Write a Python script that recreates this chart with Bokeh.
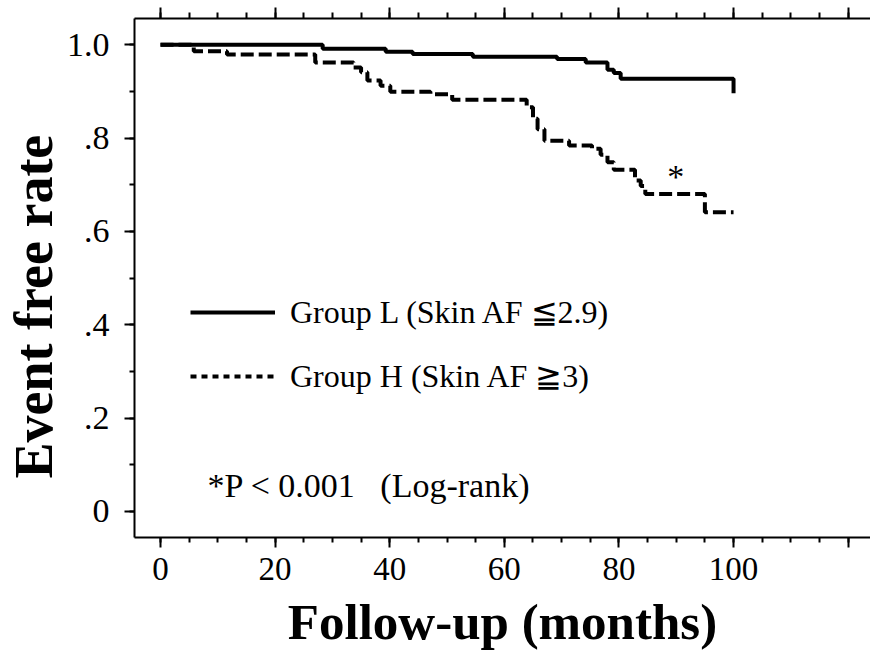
from bokeh.plotting import figure
from bokeh.models import (FixedTicker, LinearAxis, Range1d, Label, Legend, LegendItem, Title,
                          CustomLabelingPolicy)
from bokeh.embed import file_html
from bokeh.resources import INLINE

# ---- data ----
group_l_months = [0, 28.3, 39.3, 44.0, 54.5, 69.2, 74.2, 78.0, 79.1, 80.3, 100.0]
group_l_rate = [1.0, 0.991, 0.985, 0.980, 0.974, 0.969, 0.962, 0.946, 0.939, 0.927, 0.896]

group_h_months = [0, 5.8, 11.6, 27.0, 33.7, 35.0, 36.1, 38.4, 40.1, 47.1, 50.9,
                  63.9, 65.0, 65.8, 67.0, 71.3, 75.3, 76.8, 78.0, 79.1, 82.8,
                  83.8, 84.6, 95.0, 100.0]
group_h_rate = [1.0, 0.986, 0.979, 0.962, 0.951, 0.941, 0.923, 0.912, 0.899, 0.894, 0.882,
                0.866, 0.841, 0.819, 0.794, 0.784, 0.777, 0.764, 0.748, 0.732, 0.709,
                0.697, 0.680, 0.641, 0.641]

x_major_ticks = [0, 20, 40, 60, 80, 100, 120]
x_tick_labels = ["0", "20", "40", "60", "80", "100", ""]
x_minor_ticks = list(range(0, 125, 5))
y_major_ticks = [0, 0.2, 0.4, 0.6, 0.8, 1.0]
y_tick_labels = ["0", ".2", ".4", ".6", ".8", "1.0"]
y_minor_ticks = [0, 0.1, 0.2, 0.3, 0.4, 0.5, 0.6, 0.7, 0.8, 0.9, 1.0]

legend_labels = ["Group L (Skin AF \u22662.9)", "Group H (Skin AF \u22673)"]
pvalue_text = "*P < 0.001\u00a0\u00a0 (Log-rank)"
x_title = "Follow-up (months)"
y_title = "Event free rate"

FONT = "Liberation Serif"

p = figure(width=870, height=654,
           x_range=Range1d(-4.54, 123.9), y_range=Range1d(-0.0557, 1.056),
           output_backend="svg", toolbar_location=None,
           min_border_left=134, min_border_right=0, min_border_top=18, min_border_bottom=117)
p.grid.visible = False
p.outline_line_color = None
p.background_fill_color = "white"
p.border_fill_color = "white"


def style_axis(ax, size):
    ax.axis_line_width = 2
    ax.axis_line_color = "black"
    ax.major_tick_line_width = 2
    ax.minor_tick_line_width = 2
    ax.major_tick_line_color = "black"
    ax.minor_tick_line_color = "black"
    ax.major_tick_out = 10
    ax.major_tick_in = 0
    ax.minor_tick_out = 5
    ax.minor_tick_in = 0
    ax.major_label_text_font = FONT
    ax.major_label_text_color = "black"
    ax.major_label_text_font_size = size


xa = p.xaxis[0]
xa.ticker = FixedTicker(ticks=x_major_ticks, minor_ticks=x_minor_ticks)
xa.major_label_overrides = dict(zip(x_major_ticks, x_tick_labels))
style_axis(xa, "33px")
xa.major_label_standoff = 10
xa.axis_label = x_title
xa.axis_label_text_font = FONT
xa.axis_label_text_font_style = "bold"
xa.axis_label_text_font_size = "51px"
xa.axis_label_text_color = "black"
xa.axis_label_standoff = 11

ya = p.yaxis[0]
ya.ticker = FixedTicker(ticks=y_major_ticks, minor_ticks=y_minor_ticks)
ya.major_label_overrides = dict(zip(y_major_ticks, y_tick_labels))
style_axis(ya, "34px")
ya.major_label_standoff = 15

top = LinearAxis(ticker=FixedTicker(ticks=x_major_ticks, minor_ticks=x_minor_ticks))
style_axis(top, "0px")
top.major_label_standoff = 0
top.major_tick_out = 11
top.minor_tick_out = 6
top.major_label_policy = CustomLabelingPolicy(
    code="const all = [...indices]; for (const i of all) indices.unset(i); return indices")
p.add_layout(top, "above")

p.add_layout(Title(text=y_title, align="left", offset=59, standoff=0,
                   text_font=FONT, text_font_style="bold", text_font_size="54px",
                   text_color="black"), "left")

r_l = p.step(group_l_months, group_l_rate, mode="after", line_width=4, line_color="black")
r_h = p.step(group_h_months, group_h_rate, mode="after", line_width=4, line_color="black",
             line_dash="13 5")
r_h_key = p.line([float("nan")], [float("nan")], line_width=4, line_color="black",
                 line_dash="6 5")

legend = Legend(items=[LegendItem(label=legend_labels[0], renderers=[r_l]),
                       LegendItem(label=legend_labels[1], renderers=[r_h_key])],
                location=(56, 142), glyph_width=85, glyph_height=30, label_height=30,
                label_standoff=15, spacing=26, padding=0, margin=0,
                border_line_color=None, background_fill_alpha=0,
                label_text_font=FONT, label_text_font_size="32px", label_text_color="black")
p.add_layout(legend)

p.add_layout(Label(x=8.2, y=0.056, text=pvalue_text, text_font=FONT, text_font_size="34px",
                   text_baseline="alphabetic", text_align="left", text_color="black"))
p.add_layout(Label(x=89.9, y=0.717, text="*", text_font=FONT, text_font_size="34px",
                   text_baseline="alphabetic", text_align="center", text_color="black"))

open("out.html", "w").write(file_html(p, INLINE))
